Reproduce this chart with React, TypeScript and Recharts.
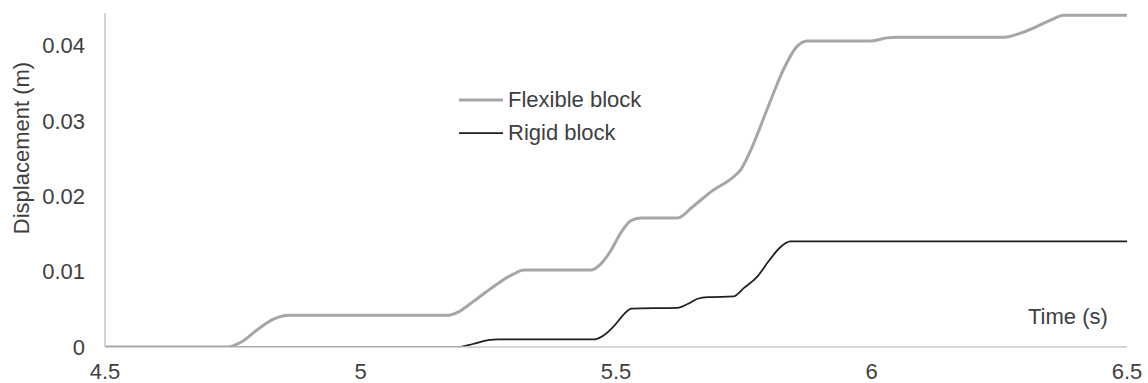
import { LineChart, Line, XAxis, YAxis, Legend, Label } from 'recharts';

// time (s) / displacement (m)
const flexT = [4.5, 4.74, 4.77, 4.8, 4.83, 4.86, 5.17, 5.19, 5.22, 5.26, 5.3, 5.32, 5.45, 5.47, 5.49, 5.51, 5.53, 5.55, 5.62, 5.65, 5.69, 5.723, 5.745, 5.765, 5.795, 5.827, 5.852, 5.874, 6.0, 6.03, 6.05, 6.26, 6.29, 6.32, 6.355, 6.375, 6.5];
const flexD = [0, 0, 0.0008, 0.0024, 0.0037, 0.0042, 0.0042, 0.0046, 0.006, 0.008, 0.0097, 0.0102, 0.0102, 0.011, 0.0128, 0.0152, 0.0168, 0.0171, 0.0171, 0.0186, 0.0208, 0.0222, 0.0236, 0.0263, 0.0314, 0.0367, 0.0397, 0.0406, 0.0406, 0.041, 0.0411, 0.0411, 0.0416, 0.0424, 0.0435, 0.044, 0.044];

const rigidT = [4.5, 5.19, 5.22, 5.25, 5.27, 5.455, 5.475, 5.495, 5.515, 5.53, 5.62, 5.64, 5.66, 5.68, 5.73, 5.75, 5.776, 5.8, 5.821, 5.841, 6.5];
const rigidD = [0, 0, 0.0004, 0.0009, 0.001, 0.001, 0.0015, 0.0027, 0.0043, 0.0051, 0.0052, 0.0057, 0.0064, 0.0066, 0.0067, 0.0078, 0.0093, 0.0115, 0.0132, 0.014, 0.014];

const xTicks = [4.5, 5, 5.5, 6, 6.5];
const yTicks = [0, 0.01, 0.02, 0.03, 0.04];

const flexData = flexT.map((t, i) => ({ t, d: flexD[i] }));
const rigidData = rigidT.map((t, i) => ({ t, d: rigidD[i] }));

const font = 'Liberation Sans, Arial, sans-serif';
const tickStyle = { fontSize: 22, fill: '#404040', fontFamily: font };

function LegendBox({ payload }: any) {
  return (
    <div style={{ fontFamily: font, fontSize: 22, color: '#404040' }}>
      {(payload || []).map((p: any) => (
        <div key={p.value} style={{ display: 'flex', alignItems: 'center', height: 33 }}>
          <svg width={44} height={6} style={{ marginRight: 5 }}>
            <line x1={0} y1={3} x2={44} y2={3} stroke={p.color} strokeWidth={p.value === 'Flexible block' ? 3 : 1.75} />
          </svg>
          <span>{p.value}</span>
        </div>
      ))}
    </div>
  );
}

export default function App() {
  return (
    <div style={{ position: 'absolute', left: 0, top: 0, background: '#fff' }}>
      <LineChart width={1148} height={383} margin={{ top: 13, right: 21, bottom: 0, left: 45 }}>
        <XAxis
          type="number"
          dataKey="t"
          domain={[4.5, 6.5]}
          ticks={xTicks}
          tickSize={0}
          tickMargin={16}
          height={36}
          tick={tickStyle}
          stroke="#c8c8c8"
          strokeWidth={1.5}
          allowDataOverflow
        >
          <Label
            content={() => (
              <text x={1028} y={324} fontSize={22} fill="#404040" fontFamily={font}>
                Time (s)
              </text>
            )}
          />
        </XAxis>
        <YAxis
          type="number"
          dataKey="d"
          domain={[0, 0.0443]}
          ticks={yTicks}
          tickSize={0}
          tickMargin={20}
          width={60}
          tick={tickStyle}
          stroke="#c8c8c8"
          strokeWidth={1.5}
          allowDataOverflow
        >
          <Label
            content={() => (
              <text
                x={23}
                y={148}
                transform="rotate(-90 23 148)"
                textAnchor="middle"
                dominantBaseline="middle"
                fontSize={22}
                fill="#404040"
                fontFamily={font}
              >
                Displacement (m)
              </text>
            )}
          />
        </YAxis>
        <Legend
          layout="vertical"
          verticalAlign="middle"
          align="center"
          content={LegendBox}
          wrapperStyle={{ left: 459, top: 83, width: 'auto' }}
        />
        <Line
          data={flexData}
          dataKey="d"
          name="Flexible block"
          type="monotone"
          stroke="#a6a6a6"
          strokeWidth={3}
          dot={false}
          isAnimationActive={false}
        />
        <Line
          data={rigidData}
          dataKey="d"
          name="Rigid block"
          type="monotone"
          stroke="#1f1f1f"
          strokeWidth={1.75}
          dot={false}
          isAnimationActive={false}
        />
      </LineChart>
    </div>
  );
}
